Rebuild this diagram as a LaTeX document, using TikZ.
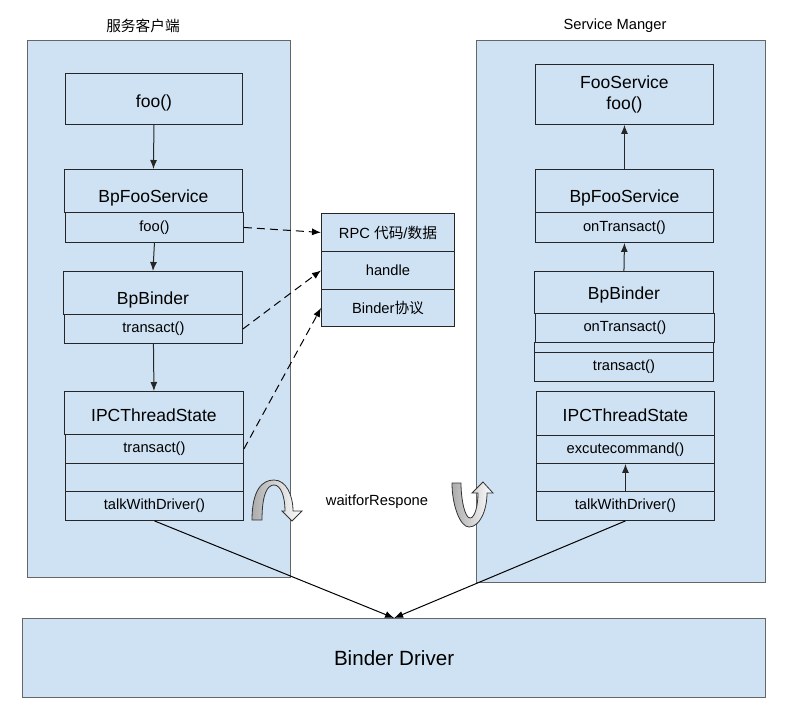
\documentclass[tikz,border=0pt]{standalone}
\usepackage{fontspec}
\setmainfont{Liberation Sans}
\newfontfamily\cjk{Noto Sans CJK SC}
\usepackage{tikz}
\usetikzlibrary{arrows.meta}
\definecolor{paleblue}{HTML}{CFE2F3}
\definecolor{panelgray}{HTML}{666666}
\tikzset{
  panel/.style = {draw = panelgray, line width = 1.2pt, fill = paleblue, anchor = north west, inner sep = 0pt},
  cell/.style = {draw = black!85, line width = 0.9pt, fill = paleblue, anchor = north west, inner sep = 0pt, minimum width = 178pt},
  head/.style = {font = \fontsize{17.5}{21}\selectfont, text height = #1, text depth = 0pt},
  big/.style = {font = \fontsize{17.5}{21}\selectfont},
  small/.style = {font = \fontsize{14.7}{17}\selectfont},
  dashed/.style = {dash pattern = on 8pt off 5pt},
}
\begin{document}
\begin{tikzpicture}[x = 1pt, y = -1pt, >= {Latex[length = 9pt, width = 7pt]}, line width = 1pt]
        \useasboundingbox (0,0) rectangle (789,718);

        \node[panel, minimum width = 263pt, minimum height = 537pt] (lpanel) at (27,40) {};
        \node[panel, minimum width = 289pt, minimum height = 542pt] (rpanel) at (476,40) {};
        \node[panel, minimum width = 743pt, minimum height = 79pt, font = \fontsize{20.6}{24}\selectfont] (driver) at (22,618) {Binder Driver};

        \node[small] (ltitle) at (143,26) {\cjk 服务客户端};
        \node[small] (rtitle) at (615,26) {Service Manger};
        \node[small] (wait) at (377,502) {waitforRespone};

        \node[cell, head = 17.6pt, minimum width = 177pt, minimum height = 51pt] (lfoo) at (65,73) {foo()};
        \node[cell, head = 22.6pt, minimum height = 43pt] (lbfs) at (64,169) {BpFooService};
        \node[cell, small, minimum height = 30pt] (lbfsfoo) at (65,212) {foo()};
        \node[cell, head = 23.6pt, minimum width = 179pt, minimum height = 43pt] (lbb) at (63,271) {BpBinder};
        \node[cell, small, minimum height = 29pt] (lbbtr) at (64,314) {transact()};
        \node[cell, head = 16.6pt, minimum width = 179pt, minimum height = 43pt] (lipc) at (64,391) {IPCThreadState};
        \node[cell, small, minimum height = 29pt] (lipctr) at (65,434) {transact()};
        \node[cell, minimum height = 28pt] (lipcgap) at (65,463) {};
        \node[cell, small, minimum height = 29pt] (lipctalk) at (65,491) {talkWithDriver()};

        \node[cell, big, minimum height = 60pt, align = center] (rfoo) at (535,64) {FooService\\foo()};
        \node[cell, head = 23.6pt, minimum height = 43pt] (rbfs) at (535,169) {BpFooService};
        \node[cell, small, minimum height = 30pt] (rbfson) at (535,212) {onTransact()};
        \node[cell, head = 14.6pt, minimum width = 179pt, minimum height = 42pt] (rbb) at (534,271) {BpBinder};
        \node[cell, small, minimum width = 179pt, minimum height = 29pt] (rbbon) at (535,313) {onTransact()};
        \node[cell, minimum width = 179pt, minimum height = 10pt] (rbbgap) at (534,342) {};
        \node[cell, small, minimum width = 179pt, minimum height = 29pt] (rbbtr) at (534,352) {transact()};
        \node[cell, head = 16.6pt, minimum height = 44pt] (ripc) at (536,391) {IPCThreadState};
        \node[cell, small, minimum height = 28pt] (ripcex) at (536,435) {excutecommand()};
        \node[cell, minimum height = 28pt] (ripcgap) at (536,463) {};
        \node[cell, small, minimum height = 29pt] (ripctalk) at (536,491) {talkWithDriver()};

        \node[cell, small, minimum width = 133pt, minimum height = 38pt] (rpc) at (321,213) {RPC {\cjk 代码}/{\cjk 数据}};
        \node[cell, small, minimum width = 133pt, minimum height = 38pt] (rpchandle) at (321,251) {handle};
        \node[cell, small, minimum width = 133pt, minimum height = 37pt] (rpcproto) at (321,289) {Binder{\cjk 协议}};

        \draw[->, black!85] (lfoo.south) -- (lbfs.north);
        \draw[->, black!85] (lbfsfoo.south) -- (lbb.north);
        \draw[->, black!85] (lbbtr.south) -- (lipc.north);

        \draw[->, black!85] (rbfs.north) -- (rfoo.south);
        \draw[->, black!85] (rbb.north) -- (rbfson.south);
        \draw[->, black!85] (ripctalk.north) -- (ripcex.south);

        \draw[dashed, ->] (lbfsfoo.east) -- (rpc.west);
        \draw[dashed, ->] (lbbtr.east) -- (rpchandle.west);
        \draw[dashed, ->] (lipctr.east) -- (rpcproto.west);

        \draw[->] (lipctalk.south) -- (driver.north);
        \draw[->] (ripctalk.south) -- (driver.north);

        \draw[left color = gray!65, right color = white, draw = black!80, line width = 0.8pt]
        (252,520) .. controls (252,490) and (262,480) .. (274,480)
        .. controls (286,480) and (293,495) .. (293,511) -- (302,511) -- (292,521) -- (282,511) -- (285,511)
        .. controls (285,497) and (281,485) .. (274,485)
        .. controls (267,485) and (262,495) .. (262,520) -- cycle;

        \draw[left color = gray!65, right color = white, draw = black!80, line width = 0.8pt]
        (452,483) .. controls (452,505) and (460,527) .. (469,527)
        .. controls (480,527) and (487,510) .. (487,493) -- (493,493) -- (483,482) -- (472,493) -- (478,493)
        .. controls (478,505) and (475,518) .. (470,518)
        .. controls (465,518) and (461,500) .. (461,483) -- cycle;
    \end{tikzpicture}
\end{document}
